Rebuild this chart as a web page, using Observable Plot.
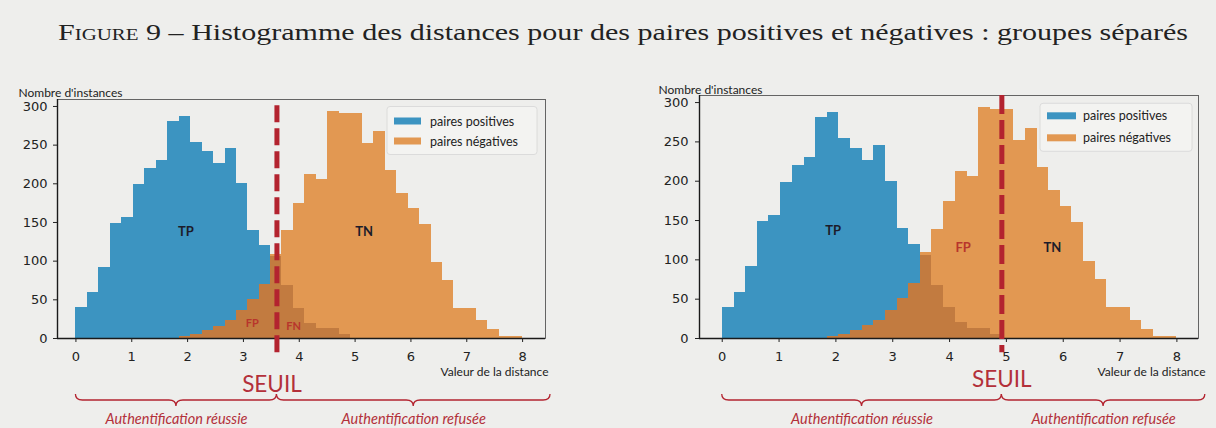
<!DOCTYPE html>
<html><head><meta charset="utf-8">
<script src="https://cdn.jsdelivr.net/npm/d3@7"></script>
<script src="https://cdn.jsdelivr.net/npm/@observablehq/plot@0.6"></script>
<style>
html,body{margin:0;padding:0;background:#eeeeec;width:1216px;height:428px;overflow:hidden}
#title{height:70px;position:relative}
#t{position:absolute;left:58px;top:19px;font-family:"Liberation Serif",serif;font-size:23px;color:#222;white-space:nowrap;transform-origin:0 0;line-height:28px}
#charts{display:flex;width:1216px}
#charts svg{display:block;overflow:visible}
</style></head><body>
<div id="title"><span id="t"><span style="font-variant:small-caps">Figure</span> 9 – Histogramme des distances pour des paires positives et négatives : groupes séparés</span></div>
<div id="charts"><div id="left"></div><div id="right"></div></div>
<script>
// ---- data ----
const binEdges = [0,0.21,0.41,0.62,0.82,1.03,1.23,1.44,1.64,1.85,2.05,2.26,2.46,2.67,2.87,3.08,3.28,3.49,3.69,3.9,4.1,4.31,4.51,4.72,4.92,5.13,5.33,5.54,5.74,5.95,6.15,6.36,6.56,6.77,6.97,7.18,7.38,7.59,7.79,8.0];
const positiveCounts = [40,59,92,149,156,199,220,230,281,287,254,242,226,246,200,140,120,106,68,39,20,13,13,5,0,0,0,0,0,0,0,0,0,0,0,0,0,0,0];
const negativeCounts = [0,0,0,0,0,0,0,0,0,2,5,10,16,23,36,51,70,109,139,174,212,206,294,291,291,252,267,217,188,168,147,98,75,39,39,23,12,3,3];
const xTicks = [0,1,2,3,4,5,6,7,8];
const yTicks = [0,50,100,150,200,250,300];
const yDomain = [0,309];
const legendLabels = ["paires positives","paires négatives"];
const seuils = {left:3.6, right:4.92};
const braceEnd = 8.5;
const braceTexts = ["Authentification réussie","Authentification refusée"];
const leftDark = [{text:"TP",x:1.97,y:138},{text:"TN",x:5.16,y:138}];
const leftRed = [{text:"FP",x:3.16,y:19},{text:"FN",x:3.9,y:16}];
const rightDark = [{text:"TP",x:1.95,y:137},{text:"TN",x:5.81,y:115}];
const rightRed = [{text:"FP",x:4.24,y:115}];

const COL = {pos:"#3c94c1", neg:"#e29852", both:"#c27b40", red:"#b3232f", text:"#b3303a"};
const SANS = "Lato, 'Noto Sans', sans-serif";

const svgNS = "http://www.w3.org/2000/svg";
function el(tag, attrs, parent){const e=document.createElementNS(svgNS,tag);for(const k in attrs)e.setAttribute(k,attrs[k]);if(parent)parent.appendChild(e);return e;}
function bins(counts){return counts.map((c,i)=>({x1:binEdges[i],x2:binEdges[i+1],count:c})).filter(d=>d.count>0);}
const posBins = bins(positiveCounts);
const negBins = bins(negativeCounts);
const bothBins = bins(positiveCounts.map((c,i)=>Math.min(c,negativeCounts[i])));

function legendMark(cfg){
  return (index, scales, values, dim) => {
    const g = el("g",{"text-anchor":"start"});
    const x0 = dim.width - dim.marginRight - cfg.legRight - cfg.legW;
    const y0 = dim.marginTop + cfg.legTop;
    el("rect",{x:x0,y:y0,width:cfg.legW,height:48,rx:3,fill:"#f3f3f1",stroke:"#d6d6d6","stroke-width":0.8},g);
    const cols=[COL.pos,COL.neg];
    legendLabels.forEach((lab,i)=>{
      const cy = y0 + cfg.legRow0 + i*cfg.legGap;
      el("rect",{x:x0+cfg.swX,y:cy-3.5,width:cfg.swW,height:7,fill:cols[i]},g);
      const t = el("text",{x:x0+cfg.txX,y:cy,"text-anchor":"start","dominant-baseline":"central","font-family":SANS,"font-size":"12.5px",fill:"#222"},g);
      t.textContent = lab;
    });
    return g;
  };
}
function braceMark(ranges, dy, h){
  return (index, scales, values, dim) => {
    const sx = scales.x, yb = scales.y(0) + dy;
    const g = el("g",{fill:"none",stroke:COL.red,"stroke-width":1.3});
    ranges.forEach(([a,b])=>{
      const x1=sx(a), x2=sx(b), xm=(x1+x2)/2, c=7;
      const d=`M${x1},${yb-h} Q${x1},${yb} ${x1+c},${yb} L${xm-c},${yb} Q${xm},${yb} ${xm},${yb+h} Q${xm},${yb} ${xm+c},${yb} L${x2-c},${yb} Q${x2},${yb} ${x2},${yb-h}`;
      el("path",{d},g);
    });
    return g;
  };
}

function makeChart(cfg){
  const ranges = [[0,cfg.seuil],[cfg.seuil,braceEnd]];
  const braceLab = ranges.map((r,i)=>({x:(r[0]+r[1])/2,text:braceTexts[i]}));
  return Plot.plot({
    width:608, height:358,
    marginLeft:cfg.ml, marginRight:cfg.mr, marginTop:cfg.mt, marginBottom:90,
    style:{background:"transparent",fontFamily:"'DejaVu Sans', sans-serif",fontSize:"13px",color:"#222",overflow:"visible"},
    x:{domain:cfg.xDomain}, y:{domain:yDomain},
    marks:[
      Plot.rect(posBins,{x1:"x1",x2:"x2",y1:()=>0,y2:"count",fill:COL.pos,shapeRendering:"crispEdges"}),
      Plot.rect(negBins,{x1:"x1",x2:"x2",y1:()=>0,y2:"count",fill:COL.neg,shapeRendering:"crispEdges"}),
      Plot.rect(bothBins,{x1:"x1",x2:"x2",y1:()=>0,y2:"count",fill:COL.both,shapeRendering:"crispEdges"}),
      Plot.frame({stroke:"#555",strokeWidth:0.9}),
      Plot.ruleY([0],{stroke:"#1a1a1a",strokeWidth:1.6}),
      Plot.ruleX([cfg.xDomain[0]],{y1:()=>0,y2:()=>yDomain[1],stroke:"#1a1a1a",strokeWidth:1.4}),
      Plot.axisX({ticks:xTicks,tickSize:4,tickPadding:9,label:null,tickFormat:d=>String(d)}),
      Plot.axisY({ticks:yTicks,tickSize:4,tickPadding:cfg.ytp,label:null}),
      Plot.text(cfg.dark,{x:"x",y:"y",text:"text",fill:"#1c1c2a",fontFamily:SANS,fontWeight:"bold",fontSize:13}),
      Plot.text(cfg.red,{x:"x",y:"y",text:"text",fill:"#b8352c",fontFamily:SANS,fontWeight:"bold",fontSize:cfg.redSize}),
      Plot.ruleX([cfg.seuil],{y1:()=>cfg.seuilTop,y2:()=>cfg.seuilBottom,stroke:COL.red,strokeWidth:5,strokeDasharray:cfg.dash}),
      Plot.text(["Nombre d'instances"],{frameAnchor:"top-left",textAnchor:"start",dx:cfg.nomDx,dy:cfg.nomDy,text:d=>d,fontFamily:SANS,fontSize:12,fill:"#222"}),
      Plot.text(["Valeur de la distance"],{frameAnchor:"bottom-right",textAnchor:"end",dx:cfg.valDx,dy:37,text:d=>d,fontFamily:SANS,fontSize:12,fill:"#222"}),
      Plot.text([cfg.seuil],{x:d=>d,y:()=>0,dx:cfg.seuilDx,dy:cfg.seuilDy,text:()=>"SEUIL",fontFamily:SANS,fontSize:22.5,fill:COL.text}),
      Plot.text(braceLab,{x:"x",y:()=>0,dy:81,text:"text",fontFamily:SANS,fontStyle:"italic",fontSize:14.5,fill:COL.text}),
      braceMark(ranges,62,6),
      legendMark(cfg)
    ]
  });
}

const left = makeChart({ml:57,mr:63,mt:29,xDomain:[-0.33,8.41],ytp:6,seuil:seuils.left,seuilTop:301,seuilBottom:-26,dash:"17,6",
  dark:leftDark,red:leftRed,redSize:11,nomDx:-39,nomDy:-11,valDx:3,seuilDx:-5,seuilDy:46,
  legRight:8,legW:150,legTop:7.5,legRow0:14.5,legGap:20,swX:7,swW:27,txX:43});
const right = makeChart({ml:91,mr:18,mt:25,xDomain:[-0.4,8.38],ytp:7,seuil:seuils.right,seuilTop:309,seuilBottom:-18,dash:"19,6",
  dark:rightDark,red:rightRed,redSize:13,nomDx:-41,nomDy:-10,valDx:7,seuilDx:0,seuilDy:41,
  legRight:6,legW:152,legTop:8.3,legRow0:12.5,legGap:22,swX:7,swW:29,txX:43});
document.getElementById("left").appendChild(left);
document.getElementById("right").appendChild(right);

const t = document.getElementById("t");
const w = t.getBoundingClientRect().width;
t.style.transform = `scaleX(${1130/w})`;
</script>
</body></html>
